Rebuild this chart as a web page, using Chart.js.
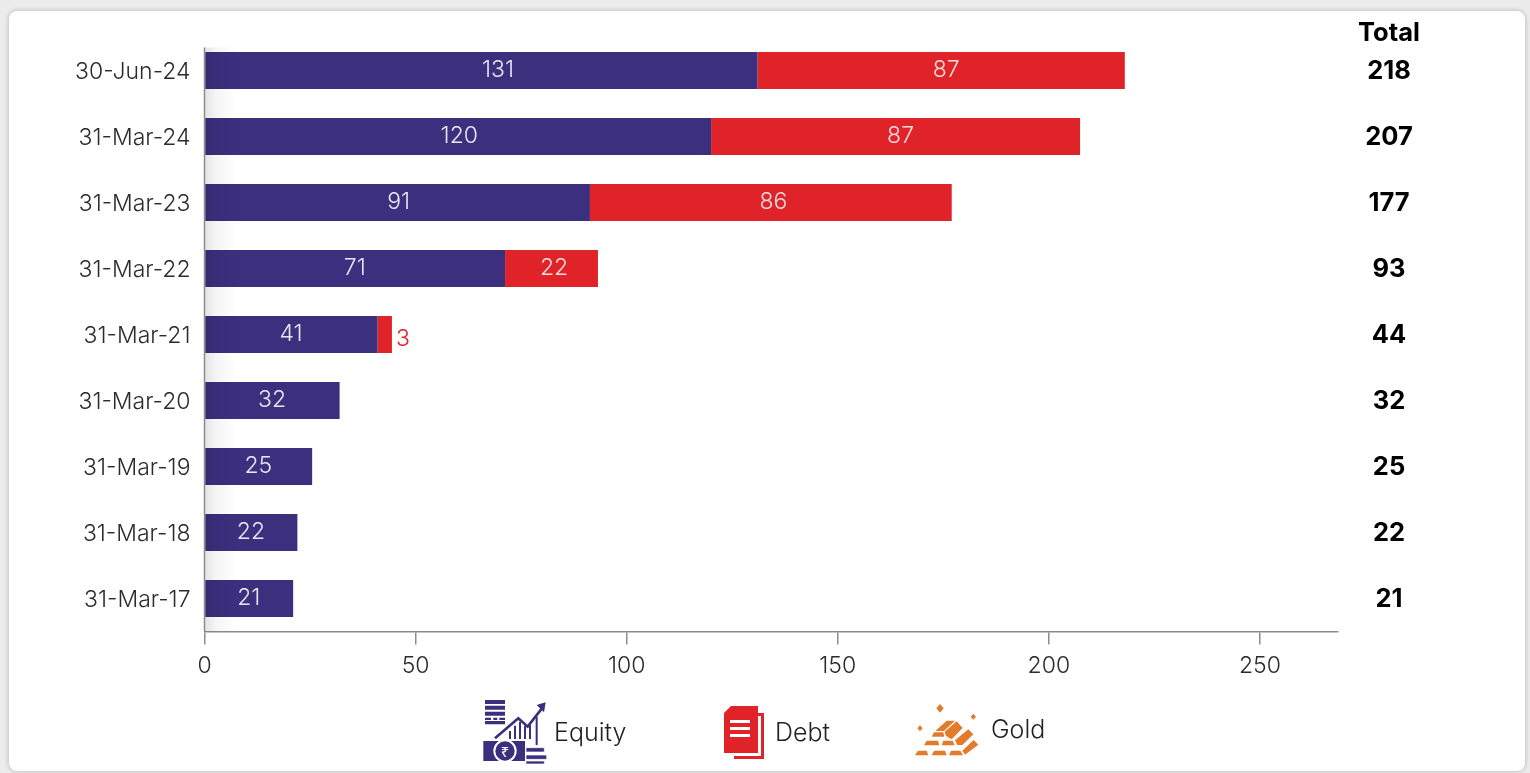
<!DOCTYPE html>
<html><head><meta charset="utf-8">
<style>
html,body{margin:0;padding:0;background:#ececec;width:1530px;height:773px;overflow:hidden}
#card{position:absolute;left:9px;top:11px;width:1516px;height:760px;background:#fff;border-radius:8px;box-shadow:0 0 5px rgba(0,0,0,.25)}
#wrap{position:absolute;left:0;top:0;width:1530px;height:773px}
.lg{position:absolute;font:300 25px "Inter",sans-serif;color:#222;line-height:30px}
svg{position:absolute}
</style>
<script src="https://cdn.jsdelivr.net/npm/chart.js@4"></script>
</head><body>
<div id="card"></div>
<div id="wrap"><canvas id="c" width="1530" height="773"></canvas></div>
<svg style="left:480px;top:695px" width="75" height="72" viewBox="0 0 225 216">
<path d="M15 15h60v12H15zM15 32h60v12H15zM15 50h60v12H15zM15 68h18v7H15zM40 68h12v7H40zM58 68h17v7H58zM15 78h60v10H15z" fill="#3b2f7e"/>
<path d="M45 130 L115 70 L143 95 L190 35" fill="none" stroke="#3b2f7e" stroke-width="8"/>
<path d="M197 22 L170 30 L192 52Z" fill="#3b2f7e"/>
<path d="M90 132V108M105 132V92M120 132V80M135 132V92M150 132V90M170 150V65" stroke="#3b2f7e" stroke-width="6"/>
<rect x="10" y="138" width="125" height="60" fill="#3b2f7e"/>
<circle cx="75" cy="168" r="32" fill="#3b2f7e" stroke="#fff" stroke-width="6"/>
<text x="75" y="186" font-size="44" fill="#fff" text-anchor="middle" font-family="Noto Sans">₹</text>
<path d="M138 158h55v13h-55zM138 180h62v13h-62zM138 198h55v9h-55z" fill="#3b2f7e" stroke="#fff" stroke-width="2"/>
</svg>
<svg style="left:722px;top:705px" width="44" height="56" viewBox="0 0 44 56">
<path d="M9 8h33v46H12v-3h27V11H9z" fill="#df2328"/>
<path d="M9 1h27v47H2V8z" fill="#df2328"/>
<path d="M8 15h20v3H8zM8 22h20v3H8zM8 29h20v3H8z" fill="#fff"/>
</svg>
<svg style="left:910px;top:700px" width="75" height="60" viewBox="0 0 225 180">
<path d="M90 12l11 13-11 13-11-13zM190 41l8 9-8 9-8-9zM30 76l8 9-8 9-8-9z" fill="#e47b2b"/>
<path d="M65 110l7-13h28l3 13zM76 93l34-31h25l-33 31zM108 108l-4-13 36-31 18 20-33 34zM42 136l8-14h34l4 14zM95 136l5-14h28l6 14zM142 135l-7-14 40-33 15 15-33 32zM15 166l9-14h26l5 14zM65 166l7-14h33l5 14zM117 166l6-14h28l8 14zM165 164l-8-12 34-32 14 14z" fill="#e47b2b"/>
</svg>
<div class="lg" style="left:554px;top:717px">Equity</div>
<div class="lg" style="left:775px;top:717px">Debt</div>
<div class="lg" style="left:991px;top:714px">Gold</div>
<script>
const categories=["30-Jun-24","31-Mar-24","31-Mar-23","31-Mar-22","31-Mar-21","31-Mar-20","31-Mar-19","31-Mar-18","31-Mar-17"];
const equity=[131,120,91.3,71.2,41,32,25.5,22,21];
const debt=[87,87.4,85.7,22,3.4,0,0,0,0];
const gold=[0,0,0,0,0,0,0,0,0];
const equityLabels=["131","120","91","71","41","32","25","22","21"];
const debtLabels=["87","87","86","22","3","","","",""];
const totals=["218","207","177","93","44","32","25","22","21"];
const xTicks=[0,50,100,150,200,250];
const INK='#2b2b2b',AX='#8c8c8c',FAMILY='Inter, sans-serif',LABEL='300 23px '+FAMILY;

const overlay={id:'overlay',
 afterDatasetsDraw(ch){
  const {ctx,scales:{x,y},chartArea:a}=ch;
  const x0=x.getPixelForValue(0);
  ctx.save();
  const g=ctx.createLinearGradient(x0,0,x0+32,0);
  g.addColorStop(0,'rgba(0,0,0,.11)');g.addColorStop(.35,'rgba(0,0,0,.04)');g.addColorStop(1,'rgba(0,0,0,0)');
  ctx.fillStyle=g;ctx.fillRect(x0,a.top+10,32,a.bottom-a.top-10);
  ctx.strokeStyle=AX;ctx.lineWidth=1.5;
  ctx.beginPath();ctx.moveTo(x0,a.top+10);ctx.lineTo(x0,a.bottom);ctx.stroke();
  ctx.font=LABEL;ctx.textBaseline='middle';ctx.textAlign='center';
  categories.forEach((c,i)=>{
   const yy=y.getPixelForValue(i);
   const shift=i===0?17:(i<3?1.5:0);
   ctx.fillStyle='#e8e6f2';
   ctx.fillText(equityLabels[i],x.getPixelForValue(equity[i]/2)+shift,yy);
   if(debt[i]>=10){ctx.fillStyle='#f6dcdc';ctx.fillText(debtLabels[i],x.getPixelForValue(equity[i]+debt[i]/2)+(i<2?5:2.5),yy);}
   else if(debt[i]>0){ctx.fillStyle='#df2328';ctx.textAlign='left';ctx.fillText(debtLabels[i],x.getPixelForValue(equity[i]+debt[i])+4,yy+5);ctx.textAlign='center';}
  });
  ctx.fillStyle='#000';ctx.font='700 25.5px '+FAMILY;
  ctx.fillText('Total',1389,33.5);
  totals.forEach((t,i)=>ctx.fillText(t,1389,y.getPixelForValue(i)+0.5));
  ctx.restore();
 }};

new Chart(document.getElementById('c'),{
 type:'bar',
 data:{labels:categories,datasets:[
  {label:'Equity',data:equity,backgroundColor:'#3b2f7e',stack:'s',categoryPercentage:1,barPercentage:.56},
  {label:'Debt',data:debt,backgroundColor:'#df2328',stack:'s',categoryPercentage:1,barPercentage:.56},
  {label:'Gold',data:gold,backgroundColor:'#e47b2b',stack:'s',categoryPercentage:1,barPercentage:.56}
 ]},
 options:{indexAxis:'y',responsive:false,animation:false,devicePixelRatio:1,
  layout:{padding:{left:0,top:37.5,right:192,bottom:0}},
  plugins:{legend:{display:false},tooltip:{enabled:false}},
  scales:{
   x:{stacked:true,min:0,max:268.5,afterBuildTicks(s){s.ticks=xTicks.map(v=>({value:v}));},afterFit(s){s.height=141.5;},
      grid:{drawOnChartArea:false,drawTicks:true,tickLength:13,color:AX,lineWidth:1.5},
      border:{display:true,color:AX,width:1.5},
      ticks:{color:INK,font:{family:'Inter',size:23,weight:'300'},padding:8,maxRotation:0,autoSkip:false}},
   y:{stacked:true,afterFit(s){s.width=204.5;},
      grid:{display:false,drawTicks:false},border:{display:false},
      ticks:{color:INK,font:{family:'Inter',size:23,weight:'300'},padding:14,labelOffset:1.5}}
  }},
 plugins:[overlay]
});
</script>
</body></html>
